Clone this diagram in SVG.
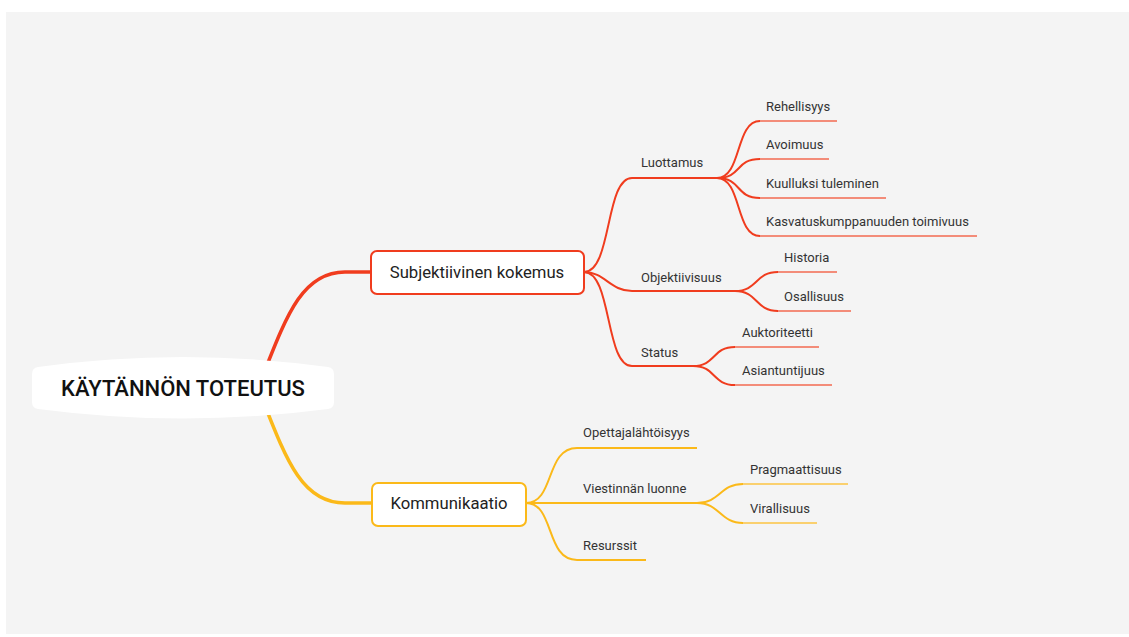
<svg xmlns="http://www.w3.org/2000/svg" width="1129" height="637" viewBox="0 0 1129 637">
<style>
text{font-family:Roboto,"Liberation Sans",sans-serif;fill:#222}
.root{font-size:22px;font-weight:500;fill:#111}
.l1{font-size:16.7px}
.lf{font-size:13px;fill:#333}
.r{fill:none;stroke:#f03c1e;stroke-width:2}
.ru{fill:none;stroke:#f36a50;stroke-width:1.5}
.y{fill:none;stroke:#fbb919;stroke-width:2}
.yu{fill:none;stroke:#fcc443;stroke-width:1.5}
</style>
<rect x="0" y="0" width="1129" height="637" fill="#ffffff"/>
<rect x="6" y="12" width="1123" height="622" fill="#f4f4f4"/>
<g id="connectors">
<path d="M258 388 C285 320,300 272,345 272 L372 272" fill="none" stroke="#f03c1e" stroke-width="3.5"/>
<path d="M258 388 C285 456,300 503,345 503 L372 503" fill="none" stroke="#fbb919" stroke-width="3.5"/>
<path class="r" d="M584 272 C612 272,605 178,632 178 L717 178"/>
<path class="r" d="M584 272 C605 272,610 291,632 291 L735 291"/>
<path class="r" d="M584 272 C612 272,605 366,632 366 L693 366"/>
<path class="r" d="M717 178 C742 178,735 121,760 121"/><path class="ru" d="M760 121 L837 121"/>
<path class="r" d="M717 178 C742 178,735 159,760 159"/><path class="ru" d="M760 159 L829 159"/>
<path class="r" d="M717 178 C742 178,735 198,760 198"/><path class="ru" d="M760 198 L886 198"/>
<path class="r" d="M717 178 C742 178,735 236,760 236"/><path class="ru" d="M760 236 L977 236"/>
<path class="r" d="M735 291 C758 291,755 272,778 272"/><path class="ru" d="M778 272 L837 272"/>
<path class="r" d="M735 291 C758 291,755 311,778 311"/><path class="ru" d="M778 311 L851 311"/>
<path class="r" d="M693 366 C716 366,712 347,735 347"/><path class="ru" d="M735 347 L819 347"/>
<path class="r" d="M693 366 C716 366,712 385,735 385"/><path class="ru" d="M735 385 L832 385"/>
<path class="y" d="M526 503 C555 503,545 448,577 448 L697 448"/>
<path class="y" d="M526 503 L697 503"/>
<path class="y" d="M526 503 C555 503,545 560,577 560 L646 560"/>
<path class="y" d="M697 503 C720 503,720 484,743 484"/><path class="yu" d="M743 484 L848 484"/>
<path class="y" d="M697 503 C720 503,720 523,743 523"/><path class="yu" d="M743 523 L817 523"/>
</g>
<g id="root">
<path d="M38 367 Q183 347 328 367 Q334 368 334 374 L334 402 Q334 408 328 409 Q183 428 38 409 Q32 408 32 402 L32 374 Q32 368 38 367 Z" fill="#ffffff"/>
<text class="root" x="183" y="396" text-anchor="middle">KÄYTÄNNÖN TOTEUTUS</text>
</g>
<g id="subjektiivinen">
<rect x="371" y="251" width="213" height="43" rx="6" fill="#fff" stroke="#f03c1e" stroke-width="2"/>
<text class="l1" x="477" y="278" text-anchor="middle">Subjektiivinen kokemus</text>
</g>
<g id="kommunikaatio">
<rect x="372" y="483" width="154" height="43" rx="6" fill="#fff" stroke="#fbb919" stroke-width="2"/>
<text class="l1" x="449" y="509" text-anchor="middle">Kommunikaatio</text>
</g>
<g id="luottamus"><text class="lf" x="641" y="167">Luottamus</text></g>
<g id="objektiivisuus"><text class="lf" x="641" y="282">Objektiivisuus</text></g>
<g id="status"><text class="lf" x="641" y="357">Status</text></g>
<g id="rehellisyys"><text class="lf" x="766" y="111">Rehellisyys</text></g>
<g id="avoimuus"><text class="lf" x="766" y="149">Avoimuus</text></g>
<g id="kuulluksi"><text class="lf" x="766" y="188">Kuulluksi tuleminen</text></g>
<g id="kasvatus"><text class="lf" x="766" y="226">Kasvatuskumppanuuden toimivuus</text></g>
<g id="historia"><text class="lf" x="784" y="262">Historia</text></g>
<g id="osallisuus"><text class="lf" x="784" y="301">Osallisuus</text></g>
<g id="auktoriteetti"><text class="lf" x="742" y="337">Auktoriteetti</text></g>
<g id="asiantuntijuus"><text class="lf" x="742" y="375">Asiantuntijuus</text></g>
<g id="opettaja"><text class="lf" x="583" y="437">Opettajalähtöisyys</text></g>
<g id="viestinta"><text class="lf" x="583" y="493">Viestinnän luonne</text></g>
<g id="resurssit"><text class="lf" x="583" y="550">Resurssit</text></g>
<g id="pragmaattisuus"><text class="lf" x="750" y="474">Pragmaattisuus</text></g>
<g id="virallisuus"><text class="lf" x="750" y="513">Virallisuus</text></g>
</svg>
